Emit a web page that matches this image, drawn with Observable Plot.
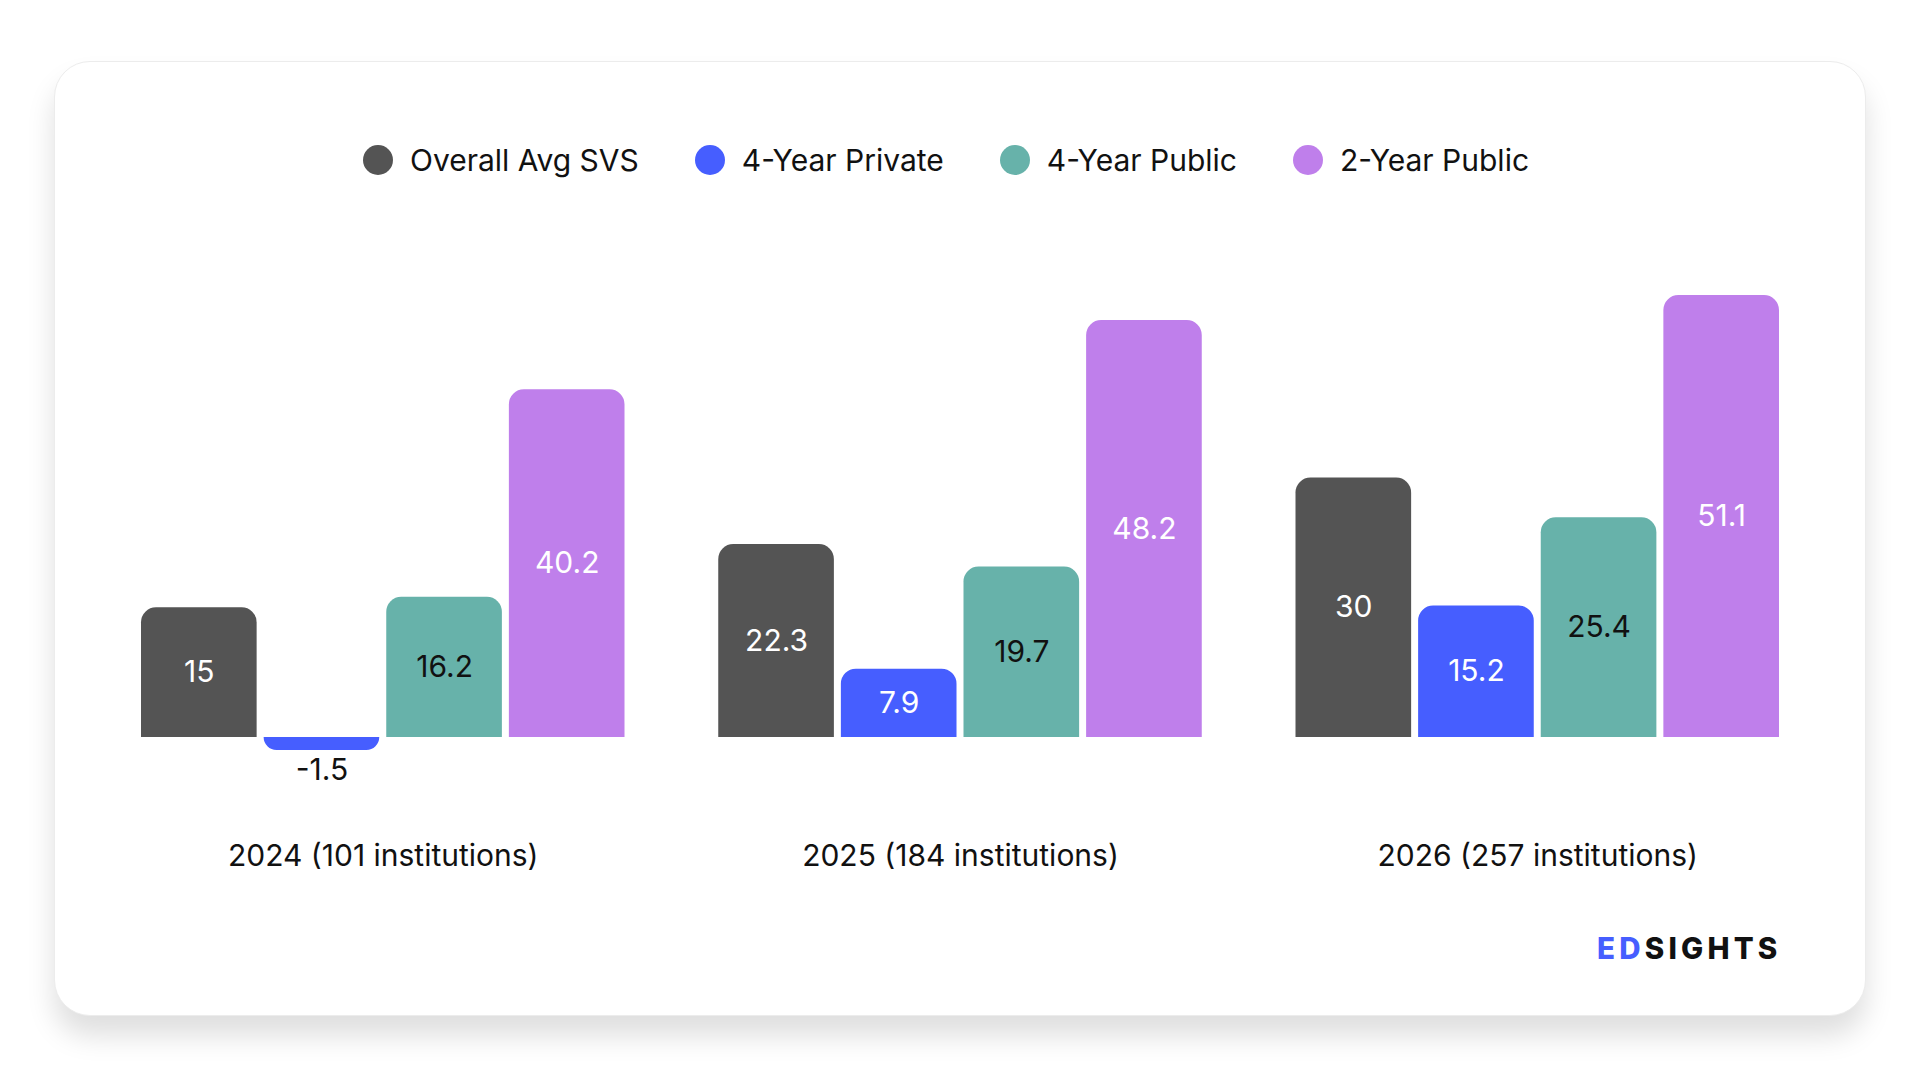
<!DOCTYPE html>
<html>
<head>
<meta charset="utf-8">
<script src="https://cdn.jsdelivr.net/npm/d3@7"></script>
<script src="https://cdn.jsdelivr.net/npm/@observablehq/plot@0.6"></script>
<style>
  html, body { margin: 0; padding: 0; background: #ffffff; width: 1920px; height: 1080px; overflow: hidden; font-family: Inter, "Noto Sans", sans-serif; }
  #card { position: absolute; left: 54px; top: 61px; width: 1810px; height: 953px; background: #fff; border: 1px solid #ececec; border-radius: 36px; box-shadow: 0 20px 28px rgba(0,0,0,0.13); }
  #legend { position: absolute; left: 363px; top: 140px; height: 40px; display: flex; align-items: center; gap: 56px; font-size: 30px; color: #111; white-space: nowrap; }
  #legend .item { display: flex; align-items: center; gap: 17px; }
  #legend .dot { width: 30px; height: 30px; border-radius: 50%; display: inline-block; }
  #chart { position: absolute; left: 0; top: 0; }
  #logo { position: absolute; left: 1597px; top: 934px; font-size: 29.5px; font-weight: 800; letter-spacing: 4.2px; color: #111; line-height: 1; }
  #logo .ed { color: #465EFF; }
</style>
</head>
<body>
<div id="card"></div>
<div id="legend"></div>
<div id="chart"></div>
<div id="logo"><span class="ed">ED</span>SIGHTS</div>
<script>
const groups = ["2024 (101 institutions)", "2025 (184 institutions)", "2026 (257 institutions)"];
const series = ["Overall Avg SVS", "4-Year Private", "4-Year Public", "2-Year Public"];
const colors = ["#545454", "#465EFF", "#67B2AA", "#BF7FEB"];
const overallAvg = [15, 22.3, 30];
const fourYearPrivate = [-1.5, 7.9, 15.2];
const fourYearPublic = [16.2, 19.7, 25.4];
const twoYearPublic = [40.2, 48.2, 51.1];
const darkLabelSeries = ["4-Year Public"];

const seriesValues = [overallAvg, fourYearPrivate, fourYearPublic, twoYearPublic];
const rows = [];
groups.forEach((g, gi) => {
  series.forEach((s, si) => {
    rows.push({group: g, series: s, value: seriesValues[si][gi]});
  });
});

// legend
const legend = document.getElementById("legend");
series.forEach((s, i) => {
  const item = document.createElement("div");
  item.className = "item";
  const dot = document.createElement("span");
  dot.className = "dot";
  dot.style.background = colors[i];
  const label = document.createElement("span");
  label.textContent = s;
  item.appendChild(dot);
  item.appendChild(label);
  legend.appendChild(item);
});

const plot = Plot.plot({
  width: 1920,
  height: 900,
  marginLeft: 141,
  marginRight: 141,
  marginTop: 0,
  marginBottom: 60,
  style: {fontFamily: "Inter, 'Noto Sans', sans-serif", fontSize: "30px", color: "#111", background: "transparent", overflow: "visible"},
  fx: {domain: groups, paddingInner: 0.1624, paddingOuter: 0, round: false, label: null},
  x: {domain: series, paddingInner: 0.057, paddingOuter: 0, round: false, axis: null},
  y: {domain: [0, 51.1], range: [737, 295], axis: null},
  color: {domain: series, range: colors},
  marks: [
    Plot.barY(rows, {filter: d => d.value >= 0, fx: "group", x: "series", y: "value", fill: "series", ry1: 15}),
    Plot.barY(rows, {filter: d => d.value < 0, fx: "group", x: "series", y: "value", fill: "series", ry2: 15}),
    Plot.text(rows, {
      filter: d => d.value >= 0 && !darkLabelSeries.includes(d.series),
      fx: "group", x: "series", y: d => d.value / 2, text: d => String(d.value),
      fill: "#ffffff", fontSize: 30
    }),
    Plot.text(rows, {
      filter: d => d.value >= 0 && darkLabelSeries.includes(d.series),
      fx: "group", x: "series", y: d => d.value / 2, text: d => String(d.value),
      fill: "#111111", fontSize: 30
    }),
    Plot.text(rows, {
      filter: d => d.value < 0,
      fx: "group", x: "series", y: "value", dy: 20, text: d => String(d.value),
      fill: "#111111", fontSize: 30
    }),
    Plot.axisFx({anchor: "bottom", tickSize: 0, tickPadding: 4, fontSize: 30, label: null})
  ]
});
document.getElementById("chart").appendChild(plot);
</script>
</body>
</html>
